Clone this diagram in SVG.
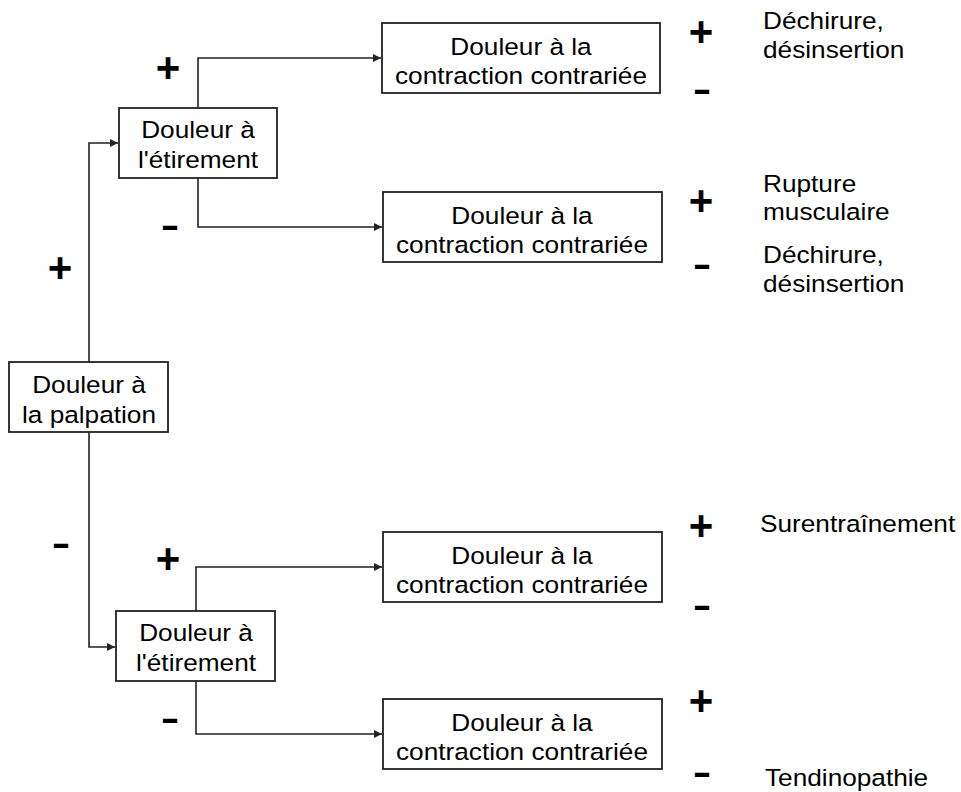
<svg xmlns="http://www.w3.org/2000/svg" width="961" height="792" viewBox="0 0 961 792">
<style>
.box{fill:#fff;stroke:#222;stroke-width:1.8}
.t{font-family:"Liberation Sans",Arial,sans-serif;font-size:24.5px;fill:#000;text-anchor:middle}
.r{font-family:"Liberation Sans",Arial,sans-serif;font-size:24.5px;fill:#000}
.s{font-family:"Liberation Sans",Arial,sans-serif;font-size:42px;font-weight:bold;fill:#000;text-anchor:middle}
.m{font-family:"Liberation Sans",Arial,sans-serif;font-size:36px;font-weight:bold;fill:#000;text-anchor:middle}
.c{fill:none;stroke:#222;stroke-width:1.6}
</style>
<defs>
<marker id="ah" viewBox="0 0 10 10" refX="10" refY="5" markerWidth="9" markerHeight="8" markerUnits="userSpaceOnUse" orient="auto">
<path d="M0,0 L10,5 L0,10 z" fill="#222"/>
</marker>
</defs>
<rect width="961" height="792" fill="#fff"/>
<g id="connectors">
<path class="c" d="M89,362 V143 H118" marker-end="url(#ah)"/>
<path class="c" d="M89,432 V647 H115" marker-end="url(#ah)"/>
<path class="c" d="M198,108 V58 H381" marker-end="url(#ah)"/>
<path class="c" d="M198,178 V227 H382" marker-end="url(#ah)"/>
<path class="c" d="M196,611 V567 H382" marker-end="url(#ah)"/>
<path class="c" d="M196,681 V734 H382" marker-end="url(#ah)"/>
</g>
<g id="palpation">
<rect class="box" x="9" y="362" width="159" height="70"/>
<text class="t" transform="translate(89,393) scale(1.07,1)">Douleur à</text>
<text class="t" transform="translate(89,423) scale(1.07,1)">la palpation</text>
</g>
<g id="etirement1">
<rect class="box" x="119" y="108" width="158" height="70"/>
<text class="t" transform="translate(198,138) scale(1.07,1)">Douleur à</text>
<text class="t" transform="translate(198,168) scale(1.07,1)">l'étirement</text>
</g>
<g id="etirement2">
<rect class="box" x="116" y="611" width="159" height="70"/>
<text class="t" transform="translate(196,641) scale(1.07,1)">Douleur à</text>
<text class="t" transform="translate(196,671) scale(1.07,1)">l'étirement</text>
</g>
<g id="contraction1">
<rect class="box" x="382" y="23" width="278" height="70"/>
<text class="t" transform="translate(521,55) scale(1.07,1)">Douleur à la</text>
<text class="t" transform="translate(521,84) scale(1.07,1)">contraction contrariée</text>
</g>
<g id="contraction2">
<rect class="box" x="383" y="192" width="279" height="70"/>
<text class="t" transform="translate(522,224) scale(1.07,1)">Douleur à la</text>
<text class="t" transform="translate(522,253) scale(1.07,1)">contraction contrariée</text>
</g>
<g id="contraction3">
<rect class="box" x="383" y="532" width="279" height="70"/>
<text class="t" transform="translate(522,564) scale(1.07,1)">Douleur à la</text>
<text class="t" transform="translate(522,593) scale(1.07,1)">contraction contrariée</text>
</g>
<g id="contraction4">
<rect class="box" x="383" y="699" width="279" height="70"/>
<text class="t" transform="translate(522,731) scale(1.07,1)">Douleur à la</text>
<text class="t" transform="translate(522,760) scale(1.07,1)">contraction contrariée</text>
</g>
<g id="signs">
<text class="s" x="168" y="82">+</text>
<text class="m" transform="translate(170,237) scale(1.55,1)">-</text>
<text class="s" x="60" y="282">+</text>
<text class="m" transform="translate(61,555) scale(1.55,1)">-</text>
<text class="s" x="168" y="573">+</text>
<text class="m" transform="translate(170,730) scale(1.55,1)">-</text>
<text class="s" x="701" y="46">+</text>
<text class="m" transform="translate(702,101) scale(1.55,1)">-</text>
<text class="s" x="701" y="215">+</text>
<text class="m" transform="translate(702,276) scale(1.55,1)">-</text>
<text class="s" x="701" y="540">+</text>
<text class="m" transform="translate(702,617) scale(1.55,1)">-</text>
<text class="s" x="701" y="715">+</text>
<text class="m" transform="translate(702,784) scale(1.55,1)">-</text>
</g>
<g id="outcomes">
<text class="r" transform="translate(763,29) scale(1.07,1)">Déchirure,</text>
<text class="r" transform="translate(763,58) scale(1.07,1)">désinsertion</text>
<text class="r" transform="translate(763,192) scale(1.07,1)">Rupture</text>
<text class="r" transform="translate(763,220) scale(1.07,1)">musculaire</text>
<text class="r" transform="translate(763,263) scale(1.07,1)">Déchirure,</text>
<text class="r" transform="translate(763,292) scale(1.07,1)">désinsertion</text>
<text class="r" transform="translate(760,532) scale(1.07,1)">Surentraînement</text>
<text class="r" transform="translate(765,786) scale(1.07,1)">Tendinopathie</text>
</g>
</svg>
